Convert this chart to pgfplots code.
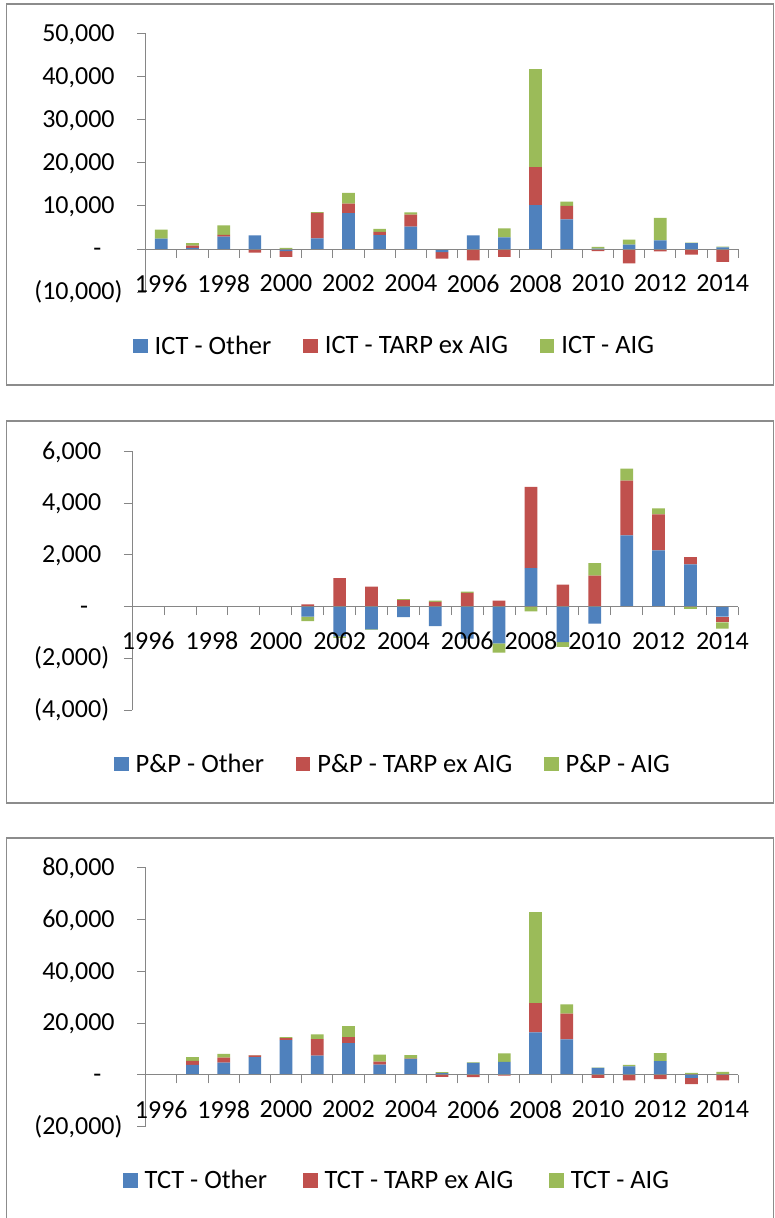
\documentclass[border=0pt]{standalone}
\usepackage{fontspec}
\setmainfont{Carlito}
\usepackage{pgfplots}
\usepackage{pgfplotstable}
\pgfplotsset{compat=1.18}
\definecolor{cblue}{HTML}{4F81BD}
\definecolor{cred}{HTML}{C0504D}
\definecolor{cgreen}{HTML}{9BBB59}
\definecolor{axgray}{HTML}{868686}
\definecolor{boxgray}{HTML}{8C8C8C}
\newcommand{\tickfont}{\fontsize{26}{31}\selectfont}
\newcommand{\legfont}{\fontsize{26.5}{32}\selectfont}

% columns: positive parts (bp rp gp), negative parts (bn rn gn)
\pgfplotstableread{
year bp rp gp bn rn gn
1996 2400 0 2100 0 -200 0
1997 300 500 600 0 0 0
1998 2900 400 2200 0 0 0
1999 3150 0 0 0 -800 0
2000 0 0 300 -500 -1300 0
2001 2500 5900 150 0 0 0
2002 8300 2200 2500 0 0 0
2003 3200 800 700 0 0 0
2004 5200 2800 500 0 0 0
2005 0 0 0 -700 -1500 0
2006 3150 0 0 0 -2600 0
2007 2700 0 2100 0 -1800 0
2008 10200 8800 22700 0 0 0
2009 6900 3100 1000 0 0 0
2010 100 0 400 0 -500 0
2011 1050 0 1150 0 -3300 0
2012 2000 0 5200 0 -550 0
2013 1350 0 150 0 -1300 0
2014 400 0 150 0 -3000 0
}\ictdata

\pgfplotstableread{
year bp rp gp bn rn gn
1996 0 0 0 0 0 0
1997 0 0 0 0 0 0
1998 0 0 0 0 0 0
1999 0 0 0 0 0 0
2000 0 0 0 0 0 0
2001 0 80 0 -390 0 -170
2002 0 1100 0 -1150 0 -60
2003 0 770 0 -880 0 -20
2004 0 245 40 -410 0 0
2005 0 180 50 -760 0 0
2006 0 530 50 -1240 0 0
2007 0 230 0 -1420 0 -360
2008 1480 3150 0 0 0 -190
2009 0 850 0 -1380 0 -180
2010 0 1190 490 -660 0 0
2011 2750 2120 460 0 0 0
2012 2170 1390 230 0 0 0
2013 1630 280 0 0 0 -90
2014 0 0 0 -390 -220 -240
}\ppdata

\pgfplotstableread{
year bp rp gp bn rn gn
1996 0 0 0 0 0 0
1997 3900 1500 1500 0 0 0
1998 4750 1900 1500 0 0 0
1999 6900 600 100 0 0 0
2000 13400 800 400 0 0 0
2001 7450 6400 1800 0 0 0
2002 12300 2300 4200 0 0 0
2003 4000 1150 2700 0 0 0
2004 6200 100 1300 0 0 0
2005 650 0 400 0 -800 0
2006 4600 0 260 0 -900 0
2007 5000 0 3300 0 -300 0
2008 16450 11300 35100 0 0 0
2009 13750 9900 3600 0 0 0
2010 2700 0 100 0 -1100 0
2011 3300 0 600 0 -2100 0
2012 5300 0 3100 0 -1600 0
2013 0 0 750 -1000 -2600 0
2014 300 0 900 0 -2100 0
}\tctdata

\pgfplotsset{
  common/.style={
    scale only axis, anchor=south west,
    xmin=1995.5, xmax=2014.5,
    ybar stacked, bar width=12.7pt,
  },
  decor/.style={
    axis on top,
    scaled y ticks=false,
    axis x line*=middle, axis y line*=left,
    axis line style={draw=axgray, line width=1pt},
    tick align=outside,
    major tick length=8.5pt, minor tick length=8.5pt,
    xtick={1996,1998,2000,2002,2004,2006,2008,2010,2012,2014},
    xticklabels={1996,1998,2000,2002,2004,2006,2008,2010,2012,2014},
    minor xtick={1995.5,1996.5,1997.5,1998.5,1999.5,2000.5,2001.5,2002.5,2003.5,2004.5,2005.5,2006.5,2007.5,2008.5,2009.5,2010.5,2011.5,2012.5,2013.5,2014.5},
    every major x tick/.append style={draw=none},
    every minor x tick/.append style={draw=axgray, line width=1pt},
    every major y tick/.append style={draw=axgray, line width=1pt},
    tick label style={font=\tickfont, inner sep=0pt},
    yticklabel style={anchor=east, xshift=-14.5pt},
    xticklabel style={anchor=north, yshift=-17pt},
    hide obscured x ticks=false, hide obscured y ticks=false,
    legend columns=3,
    legend image code/.code={\fill[##1] (0pt,-7.2pt) rectangle (14.4pt,7.2pt);},
    legend style={draw=none, fill=none, font=\legfont, anchor=west,
       inner sep=0pt, outer sep=0pt,
       /tikz/every odd column/.append style={column sep=5pt},
       /tikz/every even column/.append style={column sep=30pt}},
  },
  negax/.style={hide axis},
}

\begin{document}
\begin{tikzpicture}
\useasboundingbox (0,0) rectangle (775pt,-1218pt);
\fill[white] (0,0) rectangle (775pt,-1218pt);
\draw[boxgray, line width=1.2pt] (6.7pt,-4pt) rectangle (773.5pt,-385pt);
\draw[boxgray, line width=1.2pt] (6.7pt,-421pt) rectangle (773.5pt,-803pt);
\draw[boxgray, line width=1.2pt] (6.7pt,-838pt) rectangle (773.5pt,-1230pt);

% ---------- Panel 1: ICT ----------
\begin{axis}[common, negax, at={(145.7pt,-292.2pt)}, width=592.6pt, height=258.9pt,
  ymin=-10000, ymax=50000]
\addplot[fill=cblue, draw=none] table[x=year, y=bn] {\ictdata};
\addplot[fill=cred, draw=none] table[x=year, y=rn] {\ictdata};
\addplot[fill=cgreen, draw=none] table[x=year, y=gn] {\ictdata};
\end{axis}
\begin{axis}[common, decor, at={(145.7pt,-292.2pt)}, width=592.6pt, height=258.9pt,
  ymin=-10000, ymax=50000,
  ytick={-10000,0,10000,20000,30000,40000,50000},
  yticklabels={{(10,000)},{-\phantom{0)}},{10,000\phantom{)}},{20,000\phantom{)}},{30,000\phantom{)}},{40,000\phantom{)}},{50,000\phantom{)}}},
  legend style={at={(-0.0209,-0.2078)}}]
\addplot[fill=cblue, draw=none] table[x=year, y=bp] {\ictdata};
\addlegendentry{ICT - Other}
\addplot[fill=cred, draw=none] table[x=year, y=rp] {\ictdata};
\addlegendentry{ICT - TARP ex AIG}
\addplot[fill=cgreen, draw=none] table[x=year, y=gp] {\ictdata};
\addlegendentry{ICT - AIG}
\end{axis}

% ---------- Panel 2: P&P ----------
\begin{axis}[common, negax, at={(132.3pt,-710pt)}, width=606pt, height=258.7pt,
  ymin=-4000, ymax=6000]
\addplot[fill=cblue, draw=none] table[x=year, y=bn] {\ppdata};
\addplot[fill=cred, draw=none] table[x=year, y=rn] {\ppdata};
\addplot[fill=cgreen, draw=none] table[x=year, y=gn] {\ppdata};
\end{axis}
\begin{axis}[common, decor, at={(132.3pt,-710pt)}, width=606pt, height=258.7pt,
  ymin=-4000, ymax=6000,
  ytick={-4000,-2000,0,2000,4000,6000},
  yticklabels={{(4,000)},{(2,000)},{-\phantom{0)}},{2,000\phantom{)}},{4,000\phantom{)}},{6,000\phantom{)}}},
  legend style={at={(-0.0297,-0.2076)}}]
\addplot[fill=cblue, draw=none] table[x=year, y=bp] {\ppdata};
\addlegendentry{P\&P - Other}
\addplot[fill=cred, draw=none] table[x=year, y=rp] {\ppdata};
\addlegendentry{P\&P - TARP ex AIG}
\addplot[fill=cgreen, draw=none] table[x=year, y=gp] {\ppdata};
\addlegendentry{P\&P - AIG}
\end{axis}

% ---------- Panel 3: TCT ----------
\begin{axis}[common, negax, at={(145.7pt,-1126.7pt)}, width=592.6pt, height=259pt,
  ymin=-20000, ymax=80000]
\addplot[fill=cblue, draw=none] table[x=year, y=bn] {\tctdata};
\addplot[fill=cred, draw=none] table[x=year, y=rn] {\tctdata};
\addplot[fill=cgreen, draw=none] table[x=year, y=gn] {\tctdata};
\end{axis}
\begin{axis}[common, decor, at={(145.7pt,-1126.7pt)}, width=592.6pt, height=259pt,
  ymin=-20000, ymax=80000,
  ytick={-20000,0,20000,40000,60000,80000},
  yticklabels={{(20,000)},{-\phantom{0)}},{20,000\phantom{)}},{40,000\phantom{)}},{60,000\phantom{)}},{80,000\phantom{)}}},
  legend style={at={(-0.0378,-0.2077)}, /tikz/every even column/.append style={column sep=34pt}}]
\addplot[fill=cblue, draw=none] table[x=year, y=bp] {\tctdata};
\addlegendentry{TCT - Other}
\addplot[fill=cred, draw=none] table[x=year, y=rp] {\tctdata};
\addlegendentry{TCT - TARP ex AIG}
\addplot[fill=cgreen, draw=none] table[x=year, y=gp] {\tctdata};
\addlegendentry{TCT - AIG}
\end{axis}
\end{tikzpicture}
\end{document}
